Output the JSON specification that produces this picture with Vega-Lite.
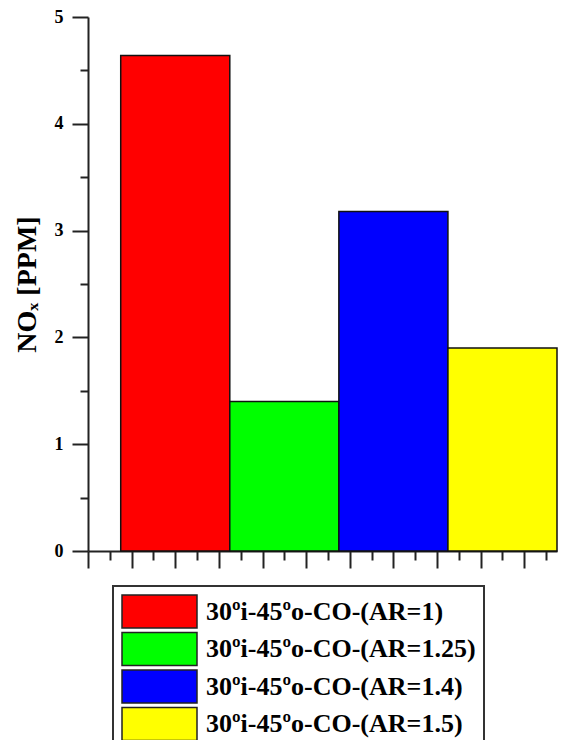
{
  "$schema": "https://vega.github.io/schema/vega-lite/v6.json",
  "width": 469,
  "height": 534,
  "autosize": {"type": "none"},
  "padding": {"left": 88, "top": 17, "right": 4, "bottom": 189},
  "background": "white",
  "config": {
    "view": {"stroke": null},
    "axis": {
      "domainColor": "#222222",
      "domainWidth": 2,
      "tickColor": "#222222",
      "tickWidth": 2,
      "grid": false,
      "labelFont": "Liberation Serif",
      "labelFontWeight": "bold",
      "labelFontSize": 18,
      "labelColor": "black",
      "titleFont": "Liberation Serif",
      "titleFontWeight": "bold",
      "titleFontSize": 28,
      "titleColor": "black"
    },
    "legend": {
      "strokeColor": "#333333",
      "strokeWidth": 2,
      "fillColor": "white"
    }
  },
  "data": {
    "values": [
      {"series": "30ºi-45ºo-CO-(AR=1)", "pos": 1, "nox": 4.64},
      {"series": "30ºi-45ºo-CO-(AR=1.25)", "pos": 2, "nox": 1.40},
      {"series": "30ºi-45ºo-CO-(AR=1.4)", "pos": 3, "nox": 3.18},
      {"series": "30ºi-45ºo-CO-(AR=1.5)", "pos": 4, "nox": 1.90}
    ]
  },
  "mark": {
    "type": "bar",
    "width": {"expr": "width / 4.3"},
    "stroke": "#111111",
    "strokeWidth": 1.5,
    "opacity": 1
  },
  "encoding": {
    "x": {
      "field": "pos",
      "type": "quantitative",
      "scale": {"domain": [0.2, 4.5], "nice": false, "zero": false, "padding": 0},
      "axis": {
        "title": null,
        "labels": false,
        "values": [0.2, 0.4, 0.6, 0.8, 1.0, 1.2, 1.4, 1.6, 1.8, 2.0, 2.2, 2.4, 2.6, 2.8, 3.0, 3.2, 3.4, 3.6, 3.8, 4.0, 4.2, 4.4],
        "tickSize": {"condition": {"test": "round(datum.value * 10) % 4 === 2", "value": 17}, "value": 9}
      }
    },
    "y": {
      "field": "nox",
      "type": "quantitative",
      "scale": {"domain": [0, 5], "nice": false, "padding": 0},
      "axis": {
        "title": "NOₓ [PPM]",
        "titlePadding": 13,
        "values": [0, 0.5, 1, 1.5, 2, 2.5, 3, 3.5, 4, 4.5, 5],
        "labelExpr": "datum.value % 1 === 0 ? format(datum.value, 'd') : ''",
        "labelOverlap": false,
        "labelPadding": 9,
        "tickSize": {"condition": {"test": "datum.value % 1 === 0", "value": 16}, "value": 8}
      }
    },
    "fill": {
      "field": "series",
      "type": "nominal",
      "scale": {
        "domain": ["30ºi-45ºo-CO-(AR=1)", "30ºi-45ºo-CO-(AR=1.25)", "30ºi-45ºo-CO-(AR=1.4)", "30ºi-45ºo-CO-(AR=1.5)"],
        "range": ["#ff0000", "#00ff00", "#0000ff", "#ffff00"]
      },
      "legend": {
        "title": null,
        "orient": "none",
        "legendX": 25,
        "legendY": 569,
        "padding": 8,
        "symbolType": "M-1,-1H3.5455V1H-1Z",
        "symbolSize": 1089,
        "symbolStrokeColor": "#222222",
        "symbolStrokeWidth": 1.5,
        "symbolOpacity": 1,
        "labelFont": "Liberation Serif",
        "labelFontWeight": "bold",
        "labelFontSize": 26,
        "labelColor": "black",
        "labelOffset": 50,
        "labelLimit": 400,
        "rowPadding": -1.5
      }
    }
  }
}
